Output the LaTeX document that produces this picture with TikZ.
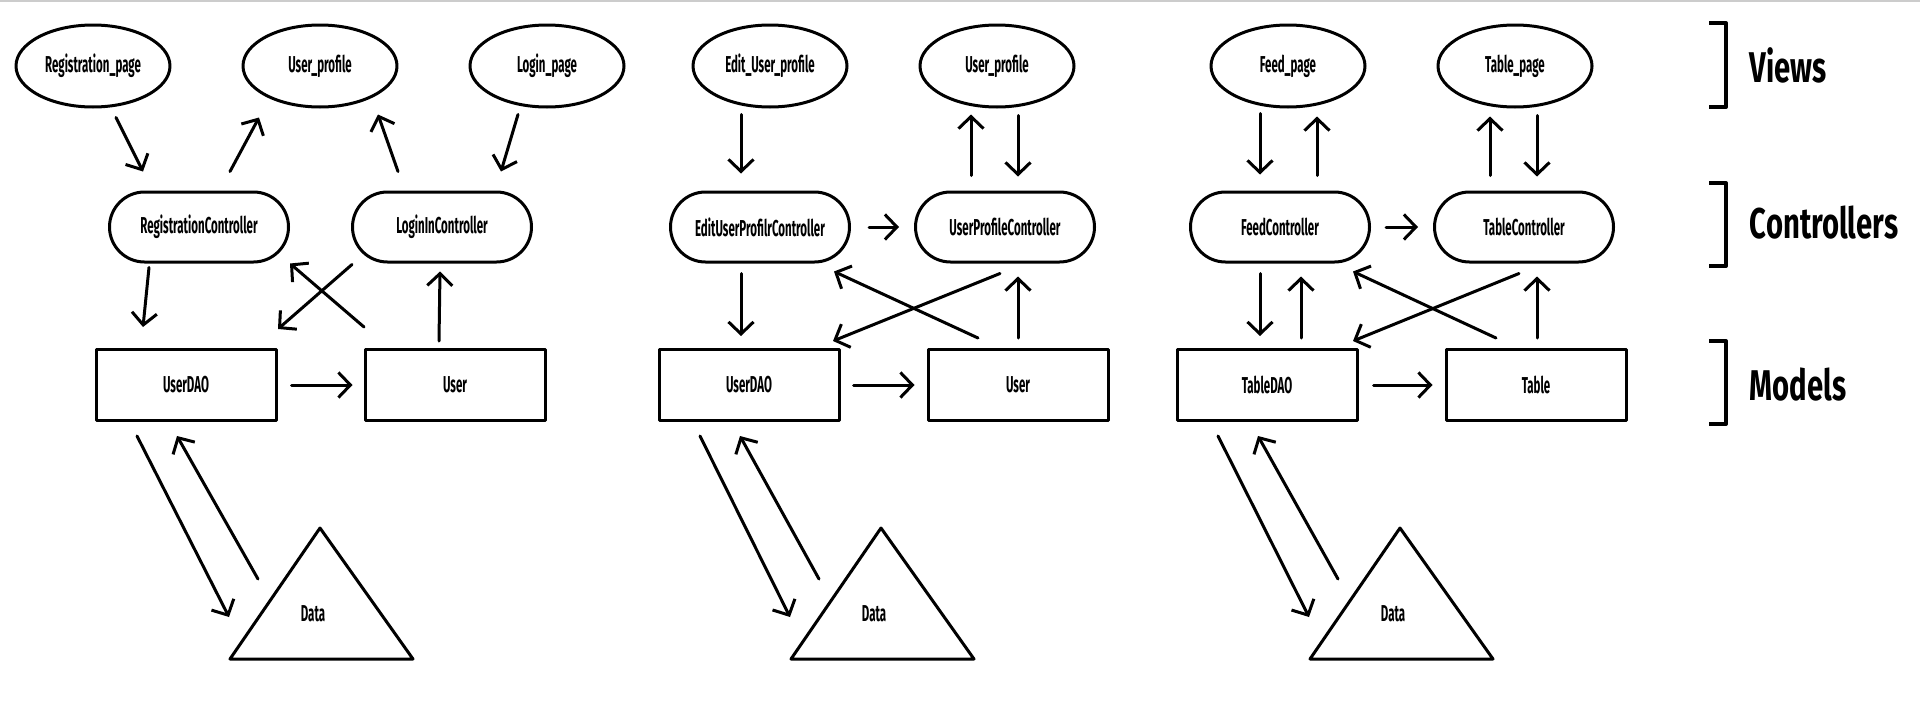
\documentclass[tikz,border=0pt]{standalone}
\usepackage{fontspec}
\setmainfont{Fira Sans}[FakeStretch=0.5]
\newfontfamily\layerfont{Fira Sans}[FakeStretch=0.68]
\usetikzlibrary{arrows.meta,calc,shapes.geometric}

\begin{document}
\begin{tikzpicture}[line cap=round,line join=round,>={Straight Barb[length=12pt,width=25pt]},x=1pt,y=-1pt,line width=3pt,
	lbl/.style={font=\bfseries\fontsize{23}{26}\selectfont},
	view/.style={lbl,draw,ellipse,minimum width=154pt,minimum height=82pt,inner sep=0pt},
	ctrl/.style={lbl,draw,rounded corners=35pt,minimum width=179pt,minimum height=70pt,inner sep=0pt},
	model/.style={lbl,draw,rectangle,minimum width=180pt,minimum height=71pt,inner sep=0pt},
	layer/.style={anchor=west,font=\layerfont\bfseries\fontsize{43}{50}\selectfont}]
	\useasboundingbox (0,0) rectangle (1920,704);
	\draw[black!20,line width=2pt] (0,1)--(1920,1);
	% Groupe 1
	\node[view] (rp1) at (93,66) {Registration\_page};
	\node[view] (up1) at (320,66) {User\_profile};
	\node[view] (lp1) at (547,66) {Login\_page};
	\node[ctrl] (rc1) at (199,227) {RegistrationController};
	\node[ctrl] (lc1) at (442,227) {LoginInController};
	\node[model] (dao1) at (186,385) {UserDAO};
	\node[model] (usr1) at (455,385) {User};
	\draw[->] ($(rp1.south)+(23,9)$)--($(rc1.north)+(-56,-19)$);
	\draw[->] ($(rc1.north)+(31,-19)$)--($(up1.south)+(-61,9)$);
	\draw[->] ($(lc1.north)+(-44,-19)$)--($(up1.south)+(58,6)$);
	\draw[->] ($(lp1.south)+(-29,6)$)--($(lc1.north)+(59,-19)$);
	\draw[->] ($(rc1.south)+(-50,4)$)--($(dao1.north)+(-43,-21)$);
	\draw[->] ($(lc1.south)+(-90,1)$)--($(dao1.north)+(92,-19)$);
	\draw[->] ($(usr1.north)+(-91,-21)$)--($(rc1.south)+(91,0)$);
	\draw[->] ($(usr1.north)+(-16,-7)$)--($(lc1.south)+(-2,8)$);
	\draw[->] ($(dao1.east)+(14,0)$)--($(usr1.west)+(-11,0)$);
	% Groupe 2
	\node[view] (ep2) at (770,66) {Edit\_User\_profile};
	\node[view] (up2) at (997,66) {User\_profile};
	\node[ctrl] (ec2) at (760,227) {EditUserProfilrController};
	\node[ctrl] (pc2) at (1005,227) {UserProfileController};
	\node[model] (dao2) at (749,385) {UserDAO};
	\node[model] (usr2) at (1018,385) {User};
	\draw[->] ($(ep2.south)+(-29,6)$)--($(ec2.north)+(-19,-17)$);
	\draw[->] ($(pc2.north)+(-34,-15)$)--($(up2.south)+(-26,6)$);
	\draw[->] ($(up2.south)+(21,7)$)--($(pc2.north)+(13,-14)$);
	\draw[->] ($(ec2.east)+(18,0)$)--($(pc2.west)+(-15,0)$);
	\draw[->] ($(ec2.south)+(-19,10)$)--($(dao2.north)+(-8,-12)$);
	\draw[->] ($(pc2.south)+(-5,10)$)--($(dao2.north)+(84,-7)$);
	\draw[->] ($(usr2.north)+(-40,-10)$)--($(ec2.south)+(74,8)$);
	\draw[->] ($(usr2.north)+(0,-10)$)--($(pc2.south)+(13,13)$);
	\draw[->] ($(dao2.east)+(13,0)$)--($(usr2.west)+(-12,0)$);
	% Groupe 3
	\node[view] (fp3) at (1288,66) {Feed\_page};
	\node[view] (tp3) at (1515,66) {Table\_page};
	\node[ctrl] (fc3) at (1280,227) {FeedController};
	\node[ctrl] (tc3) at (1524,227) {TableController};
	\node[model] (dao3) at (1267,385) {TableDAO};
	\node[model] (tab3) at (1536,385) {Table};
	\draw[->] ($(fp3.south)+(-28,5)$)--($(fc3.north)+(-20,-16)$);
	\draw[->] ($(fc3.north)+(37,-15)$)--($(fp3.south)+(29,8)$);
	\draw[->] ($(tc3.north)+(-34,-15)$)--($(tp3.south)+(-25,8)$);
	\draw[->] ($(tp3.south)+(22,7)$)--($(tc3.north)+(13,-14)$);
	\draw[->] ($(fc3.east)+(15,0)$)--($(tc3.west)+(-15,0)$);
	\draw[->] ($(fc3.south)+(-20,10)$)--($(dao3.north)+(-7,-12)$);
	\draw[->] ($(dao3.north)+(34,-10)$)--($(fc3.south)+(21,13)$);
	\draw[->] ($(tc3.south)+(-5,10)$)--($(dao3.north)+(86,-7)$);
	\draw[->] ($(tab3.north)+(-40,-10)$)--($(fc3.south)+(73,8)$);
	\draw[->] ($(tab3.north)+(1,-10)$)--($(tc3.south)+(13,13)$);
	\draw[->] ($(dao3.east)+(15,0)$)--($(tab3.west)+(-12,0)$);
	% Donnees
	\foreach \i/\xd in {1/313,2/874,3/1393}{
		\node[lbl] (data\i) at (\xd,614) {Data};
		\draw ($(data\i)+(7,-86)$)--($(data\i)+(100,45)$)--($(data\i)+(-83,45)$)--cycle;
		\draw[->] ($(dao\i.south)+(-49,14)$)--($(data\i)+(-84,3)$);
		\draw[->] ($(data\i)+(-55,-35)$)--($(dao\i.south)+(-9,14)$);
	}
	% Couches
	\draw[line width=4pt,line cap=butt] (1709,23)--(1726,23)--(1726,107)--(1709,107);
	\draw[line width=4pt,line cap=butt] (1709,183)--(1726,183)--(1726,266)--(1709,266);
	\draw[line width=4pt,line cap=butt] (1709,341)--(1726,341)--(1726,424)--(1709,424);
	\node[layer] (views) at (1745,65) {Views};
	\node[layer] (ctrls) at (1745,223) {Controllers};
	\node[layer] (models) at (1745,385) {Models};
\end{tikzpicture}
\end{document}
